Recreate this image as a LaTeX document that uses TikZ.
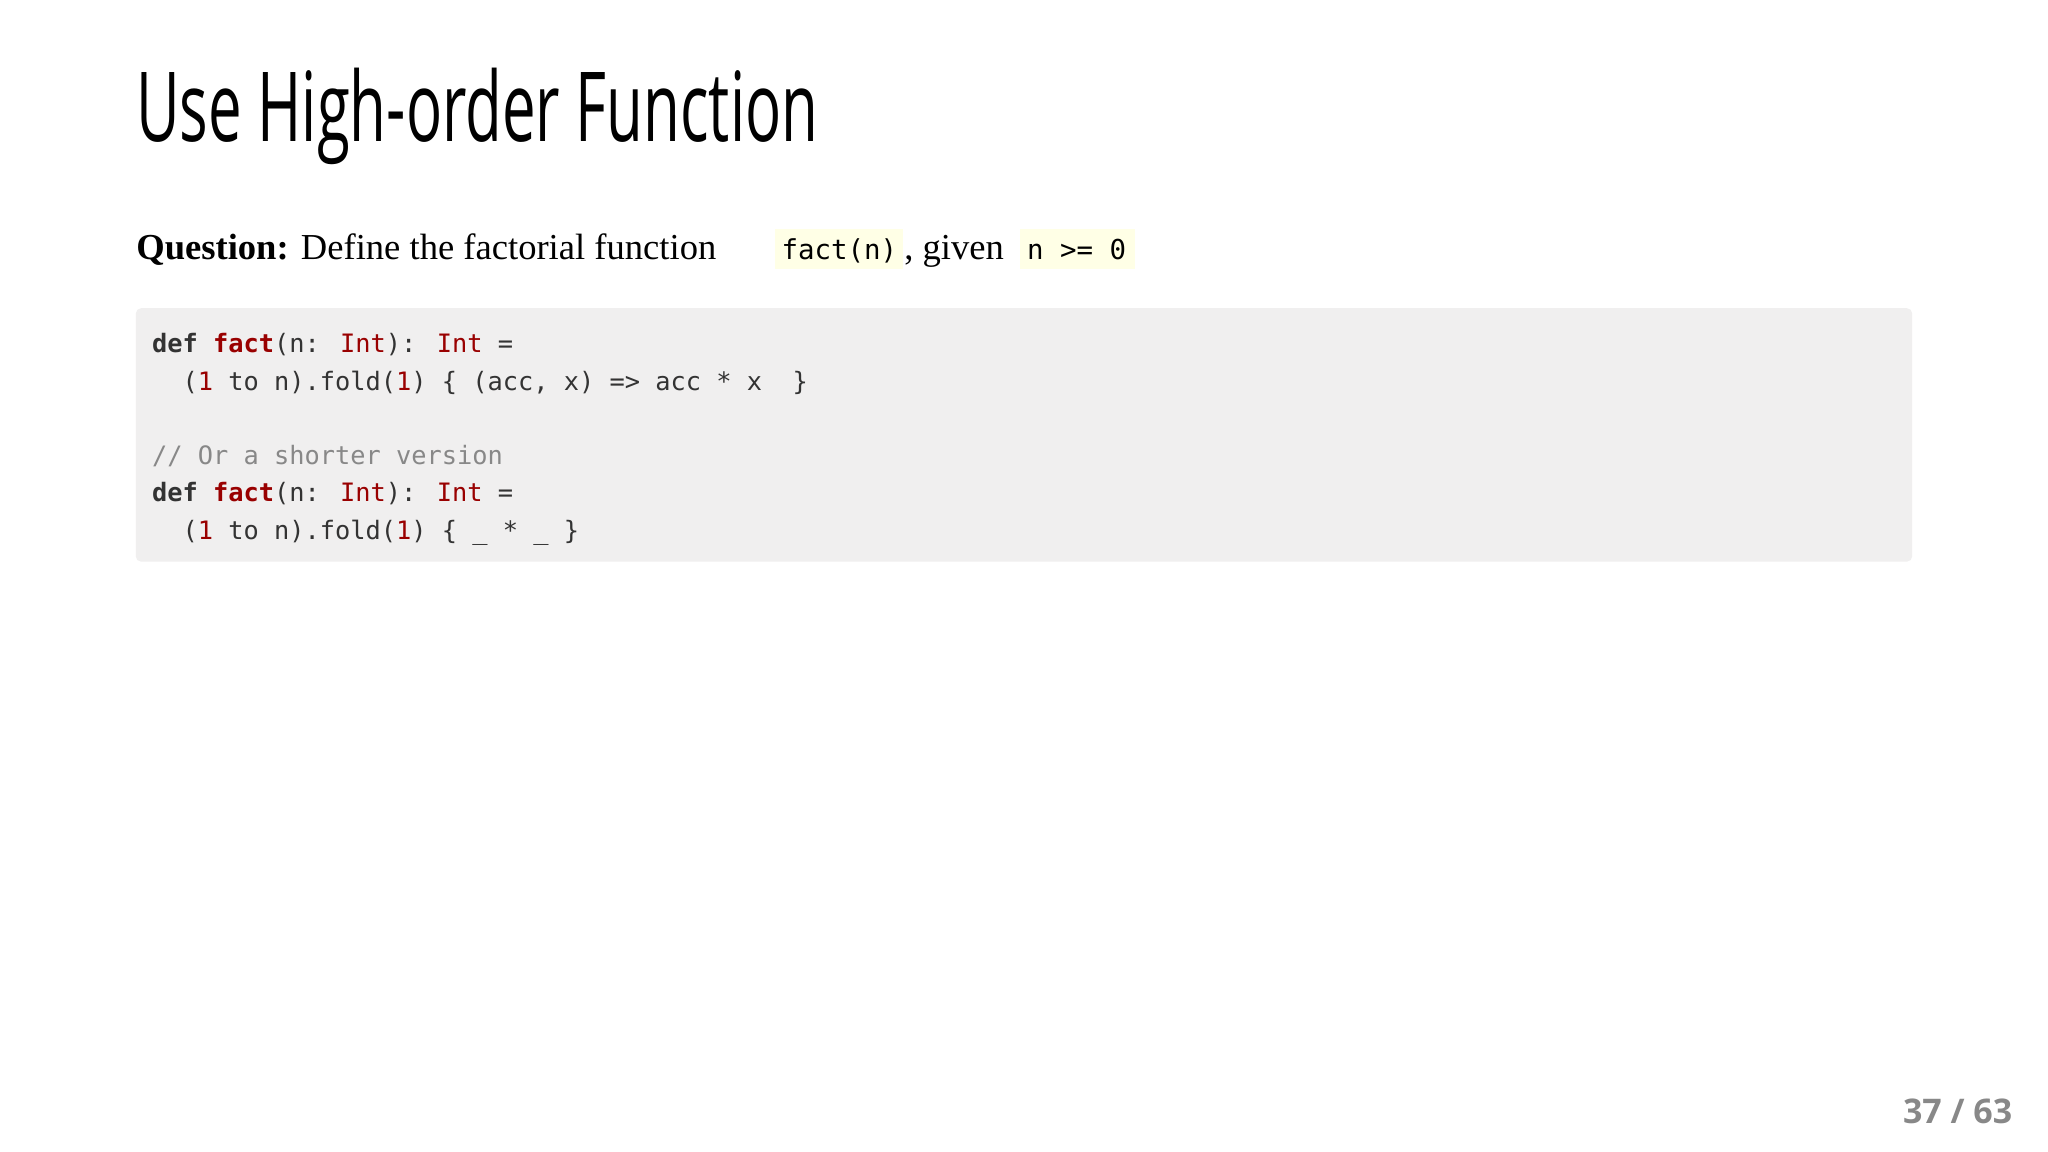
\documentclass[tikz,border=0pt]{standalone}
\usepackage{fontspec}
\setmainfont{Liberation Serif}
\newfontfamily\titlefont[FakeStretch=0.62]{Open Sans}
\newfontfamily\codefont{DejaVu Sans Mono}
\newfontfamily\numfont{Open Sans}
\definecolor{codebg}{HTML}{F0EFEF}
\definecolor{hlbg}{HTML}{FFFFE6}
\definecolor{kw}{HTML}{333333}
\definecolor{rd}{HTML}{990000}
\definecolor{cm}{HTML}{888888}
\tikzset{txt/.style={anchor=base west,inner sep=0pt},
 codeline/.style={txt,font=\codefont\fontsize{9.7}{11}\selectfont,text=kw}}
\newcommand{\K}[1]{\textbf{#1}}
\newcommand{\R}[1]{\textcolor{rd}{#1}}
\newcommand{\RB}[1]{\textcolor{rd}{\textbf{#1}}}
\begin{document}
\begin{tikzpicture}[x=0.5pt,y=-0.5pt]
\useasboundingbox[fill=white] (0,0) rectangle (1568,882);
\node[txt,font=\titlefont\fontsize{37}{40}\selectfont] (title) at (104,108) {Use High-order Function};
\fill[hlbg] (593,175) rectangle (691,206);
\fill[hlbg] (781,175) rectangle (869,206);
\node[txt,font=\fontsize{14}{16}\selectfont] (q) at (104,199) {\textbf{Question:} Define the factorial function};
\node[txt,font=\codefont\fontsize{10.5}{12}\selectfont] (c1) at (598,199) {fact(n)};
\node[txt,font=\fontsize{14}{16}\selectfont] (q2) at (692,199) {, given};
\node[txt,font=\codefont\fontsize{10.5}{12}\selectfont] (c2) at (786,199) {n >= 0};
\fill[codebg,rounded corners=2pt] (104,236) rectangle (1464,430);
\node[codeline] (l1) at (116,270) {\K{def} \RB{fact}(n: \R{Int}): \R{Int} =};
\node[codeline] (l2) at (116,299) {~~(\R{1} to n).fold(\R{1}) \{ (acc, x) => acc * x ~\}};
\node[codeline,text=cm] (l3) at (116,356) {// Or a shorter version};
\node[codeline] (l4) at (116,384) {\K{def} \RB{fact}(n: \R{Int}): \R{Int} =};
\node[codeline] (l5) at (116,413) {~~(\R{1} to n).fold(\R{1}) \{ \_ * \_ \}};
\node[anchor=base east,inner sep=0pt,font=\numfont\bfseries\fontsize{13}{15}\selectfont,text=cm] (pg) at (1541,860) {37 / 63};
\end{tikzpicture}
\end{document}
